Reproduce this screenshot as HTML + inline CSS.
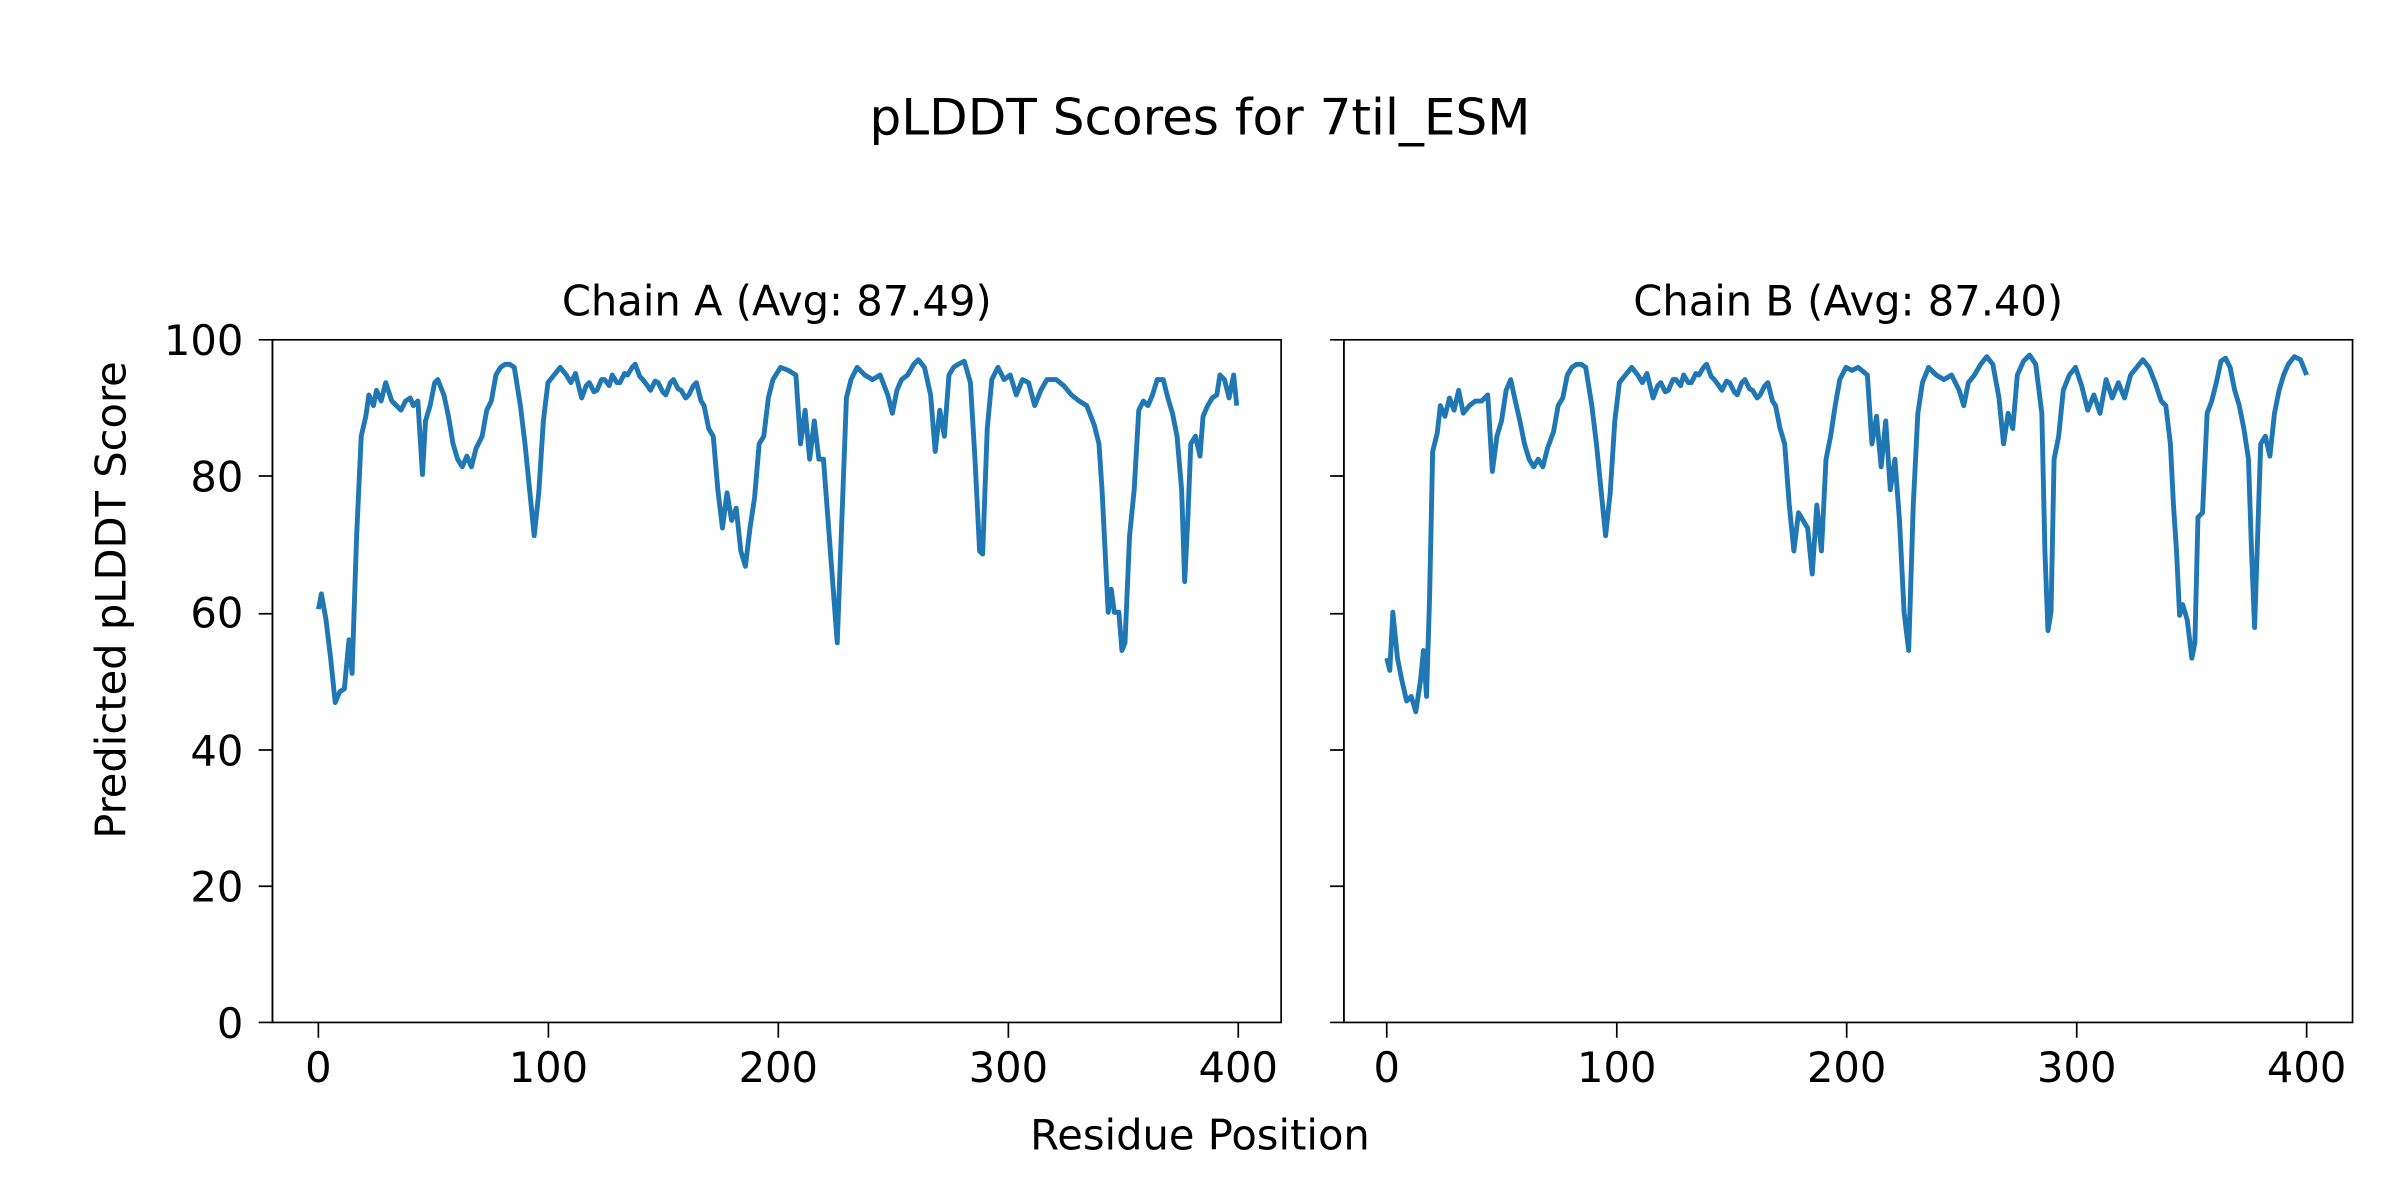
<!DOCTYPE html>
<html><head><meta charset="utf-8"><style>html,body{margin:0;padding:0;background:#fff}svg{display:block}</style></head>
<body>
<svg width="2400" height="1200" viewBox="0 0 1568 784" xmlns="http://www.w3.org/2000/svg" font-family="DejaVu Sans, Liberation Sans, sans-serif" fill="#000">
<rect width="1568" height="784" fill="#fff"/>
<text x="784" y="88" font-size="32.7" text-anchor="middle">pLDDT Scores for 7til_ESM</text>
<text x="507.5" y="206" font-size="27.2" text-anchor="middle">Chain A (Avg: 87.49)</text>
<text x="1207.5" y="206" font-size="27.2" text-anchor="middle">Chain B (Avg: 87.40)</text>
<text x="784" y="751" font-size="27.2" text-anchor="middle">Residue Position</text>
<text transform="translate(82,392) rotate(-90)" font-size="27.2" text-anchor="middle">Predicted pLDDT Score</text>
<g font-size="27.2" text-anchor="end">
<text x="159" y="678">0</text><text x="159" y="589">20</text><text x="159" y="500">40</text><text x="159" y="410">60</text><text x="159" y="321">80</text><text x="159" y="232">100</text>
</g>
<g font-size="27.2" text-anchor="middle">
<text x="208" y="707">0</text><text x="358.3" y="707">100</text><text x="508.5" y="707">200</text><text x="658.8" y="707">300</text><text x="809" y="707">400</text>
<text x="906" y="707">0</text><text x="1056.3" y="707">100</text><text x="1206.5" y="707">200</text><text x="1356.8" y="707">300</text><text x="1507" y="707">400</text>
</g>
<g stroke="#000" stroke-width="1.1" fill="none">
<path d="M178 222V668M169 668H178M169 579H178M169 490H178M169 401H178M169 311H178M169 222H178M208 668V678M358.3 668V678M508.5 668V678M658.8 668V678M809 668V678"/>
<path d="M878 222V668M869 668H878M869 579H878M869 490H878M869 401H878M869 311H878M869 222H878M906 668V678M1056.3 668V678M1206.5 668V678M1356.8 668V678M1507 668V678"/>
</g>
<g stroke="#1f77b4" stroke-width="3.2" fill="none" stroke-linejoin="round">
<polyline points="208,398 210,388 213,405 216,430 219,459 222,452 225,450 228,418 230,440 233,350 236,285 239,272 241,258 244,265 246,255 249,262 252,250 256,262 259,265 262,268 265,262 268,260 270,265 273,262 276,310 278,275 281,265 284,250 286,248 290,258 293,272 296,290 299,300 302,305 305,298 308,305 311,293 315,285 318,268 321,262 324,245 327,240 330,238 333,238 336,240 340,265 343,290 346,320 349,350 352,322 355,275 358,250 362,245 366,240 370,245 373,250 376,244 380,260 383,252 385,250 388,256 390,255 393,248 395,248 398,252 400,245 403,250 405,250 408,244 410,245 413,240 415,238 418,246 420,248 423,252 425,255 428,249 430,250 433,256 435,258 438,250 440,248 443,254 445,255 448,260 450,258 453,252 455,250 458,262 460,265 463,280 466,285 469,320 472,345 475,322 478,340 481,332 484,360 487,370 490,345 493,325 496,290 499,285 502,260 505,248 510,240 515,242 520,245 523,290 526,268 529,300 532,275 535,300 538,300 541,340 544,380 547,420 550,340 553,260 556,248 560,240 565,245 570,248 575,245 580,258 583,270 586,255 589,248 593,245 597,238 600,235 604,240 608,258 611,295 614,268 617,285 620,245 623,240 626,238 630,236 634,250 637,300 640,360 642,362 645,280 648,248 652,240 656,248 660,245 664,258 668,248 672,250 676,265 680,255 684,248 690,248 695,252 700,258 705,262 710,265 715,278 718,290 720,320 722,360 724,400 726,385 728,400 731,400 733,425 735,420 738,350 741,320 744,268 747,262 750,265 753,258 756,248 760,248 763,260 766,270 769,285 772,320 774,380 776,340 778,290 781,285 784,298 786,272 789,265 792,260 795,258 797,245 800,248 803,260 806,245 808,265"/>
<polyline points="906,430 908,438 910,400 913,430 916,445 919,458 922,455 925,465 928,445 930,425 932,455 934,390 936,295 939,283 941,265 944,272 947,260 950,268 953,255 956,270 960,265 964,262 968,262 972,258 975,308 978,285 981,275 984,255 987,248 990,262 993,275 996,290 999,300 1002,305 1005,300 1008,305 1011,293 1015,282 1018,265 1021,260 1024,245 1027,240 1030,238 1033,238 1036,240 1040,265 1043,290 1046,320 1049,350 1052,322 1055,275 1058,250 1062,245 1066,240 1070,245 1073,250 1076,244 1080,260 1083,252 1085,250 1088,256 1090,255 1093,248 1095,248 1098,252 1100,245 1103,250 1105,250 1108,244 1110,245 1113,240 1115,238 1118,246 1120,248 1123,252 1125,255 1128,249 1130,250 1133,256 1135,258 1138,250 1140,248 1143,254 1145,255 1148,260 1150,258 1153,252 1155,250 1158,262 1160,265 1163,280 1166,290 1169,330 1172,360 1175,335 1178,340 1181,345 1184,375 1187,330 1190,360 1193,300 1196,285 1199,265 1202,248 1206,240 1210,242 1214,240 1220,245 1223,290 1226,272 1229,305 1232,275 1235,320 1238,300 1241,340 1244,400 1247,425 1250,330 1253,270 1256,250 1260,240 1265,245 1270,248 1275,245 1280,255 1283,265 1286,250 1290,245 1294,238 1298,233 1302,238 1306,260 1309,290 1312,270 1315,280 1318,245 1322,236 1326,232 1330,238 1334,270 1336,360 1338,412 1340,400 1342,300 1345,285 1348,255 1352,245 1356,240 1360,252 1364,268 1368,258 1372,270 1376,248 1380,260 1384,250 1388,260 1392,245 1396,240 1400,235 1404,240 1408,250 1412,262 1415,265 1418,290 1420,330 1422,360 1424,402 1426,395 1429,405 1432,430 1434,420 1436,338 1439,335 1442,270 1445,262 1448,250 1451,236 1454,234 1457,240 1460,255 1463,265 1466,280 1469,300 1471,360 1473,410 1475,350 1477,290 1480,285 1483,298 1486,270 1489,255 1492,245 1495,238 1499,233 1503,235 1507,245"/>
</g>
<g stroke="#000" stroke-width="1.1" fill="none">
<rect x="178" y="222" width="659" height="446"/>
<rect x="878" y="222" width="659" height="446"/>
</g>
</svg>
</body></html>
